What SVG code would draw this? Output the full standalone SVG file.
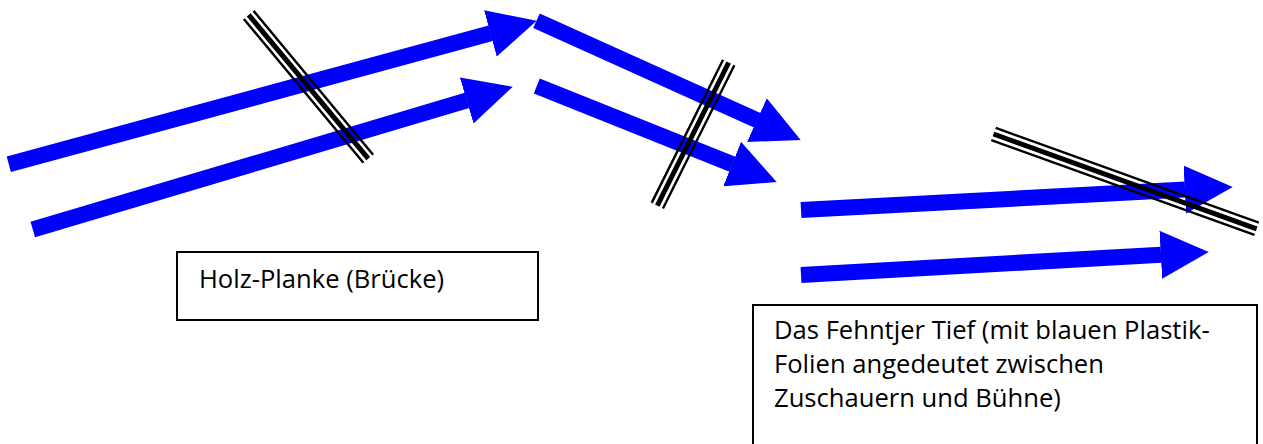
<svg xmlns="http://www.w3.org/2000/svg" width="1263" height="444" viewBox="0 0 1263 444">
  <style>
    .flow { stroke: #0000FF; stroke-width: 16; stroke-linecap: butt; fill: none; marker-end: url(#head); }
    .plank-thin { stroke: #000000; stroke-width: 2.4; }
    .plank-core { stroke: #000000; stroke-width: 5; }
    .box { fill: #FFFFFF; stroke: #000000; stroke-width: 2; }
    .label { font-family: "Open Sans", "Noto Sans", "Liberation Sans", sans-serif; font-size: 25.6px; fill: #000000; }
  </style>
  <defs>
    <marker id="head" viewBox="0 0 3 3" refX="0.02" refY="1.5" markerWidth="3" markerHeight="3" orient="auto" markerUnits="strokeWidth">
      <path d="M0,0 L3,1.5 L0,3 Z" fill="#0000FF"/>
    </marker>
  </defs>
  <rect width="1263" height="444" fill="#FFFFFF"/>

  <!-- water flow arrows -->
  <g id="connectors">
    <line class="flow" x1="8.8" y1="164.3" x2="490.7" y2="33.3"/>
    <line class="flow" x1="32.8" y1="229.5" x2="467" y2="100.4"/>
    <line class="flow" x1="536.5" y1="20.8" x2="757.2" y2="120.3"/>
    <line class="flow" x1="536.8" y1="86" x2="732.4" y2="164.2"/>
    <line class="flow" x1="801" y1="210" x2="1185.1" y2="189.6"/>
    <line class="flow" x1="801" y1="275" x2="1161.1" y2="254.7"/>
  </g>

  <!-- planks laid across the water: thin / thick / thin -->
  <g id="plank-1" transform="translate(248.7,14.9) rotate(50.26)">
    <line class="plank-thin" x1="0" y1="-6.3" x2="187" y2="-6.3"/>
    <line class="plank-core" x1="0" y1="0" x2="187" y2="0"/>
    <line class="plank-thin" x1="0" y1="6.3" x2="187" y2="6.3"/>
  </g>
  <g id="plank-2" transform="translate(728.7,62.5) rotate(116.5)">
    <line class="plank-thin" x1="0" y1="-6.3" x2="160" y2="-6.3"/>
    <line class="plank-core" x1="0" y1="0" x2="160" y2="0"/>
    <line class="plank-thin" x1="0" y1="6.3" x2="160" y2="6.3"/>
  </g>
  <g id="plank-3" transform="translate(993.5,134) rotate(19.81)">
    <line class="plank-thin" x1="0" y1="-6.5" x2="279.7" y2="-6.5"/>
    <line class="plank-core" x1="0" y1="0" x2="279.7" y2="0"/>
    <line class="plank-thin" x1="0" y1="6.5" x2="279.7" y2="6.5"/>
  </g>

  <!-- text boxes -->
  <g id="box-holz-planke">
    <rect class="box" x="177" y="252" width="361" height="68"/>
    <text class="label" x="199" y="288">Holz-Planke (Brücke)</text>
  </g>
  <g id="box-fehntjer-tief">
    <rect class="box" x="753" y="305" width="504" height="160"/>
    <text class="label" x="774" y="339">Das Fehntjer Tief (mit blauen Plastik-</text>
    <text class="label" x="774" y="373">Folien angedeutet zwischen</text>
    <text class="label" x="774" y="407">Zuschauern und Bühne)</text>
  </g>
</svg>
